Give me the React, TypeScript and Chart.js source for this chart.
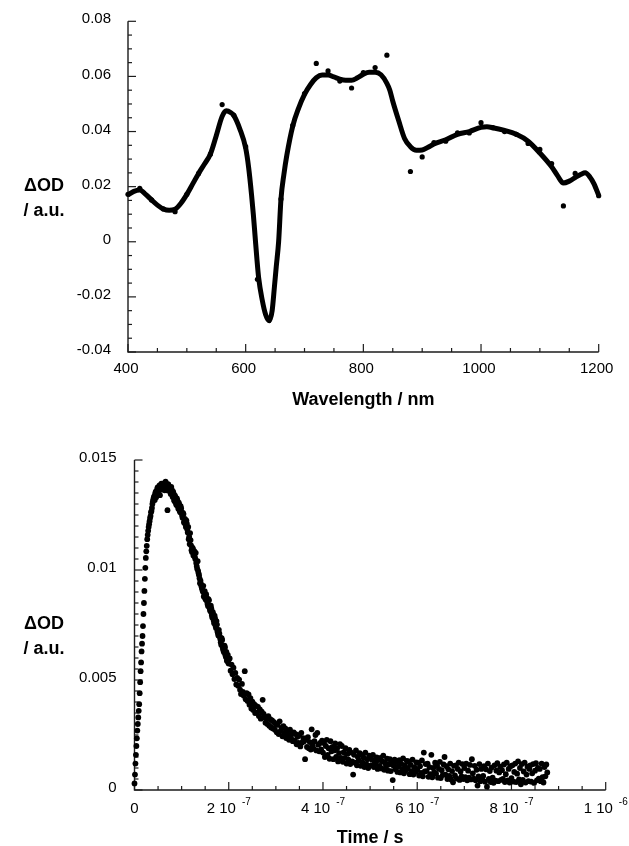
import React, { useEffect, useRef } from "react";
import { Chart, registerables } from "chart.js";

Chart.register(...registerables);

// ---------- Top chart: transient spectrum ----------
const specPointNm = [400, 420, 440, 460, 480, 500, 520, 540, 560, 580, 600, 620, 640, 660, 680, 700, 720, 740, 760, 780, 800, 820, 840, 880, 900, 920, 940, 960, 980, 1000, 1020, 1040, 1060, 1080, 1100, 1120, 1140, 1160, 1200];
const specPointOD = [0.0172, 0.0194, 0.0152, 0.0119, 0.0109, 0.0172, 0.0248, 0.0318, 0.0498, 0.0459, 0.0345, -0.0136, -0.0283, 0.0155, 0.0422, 0.0538, 0.0647, 0.062, 0.0583, 0.0558, 0.0614, 0.0632, 0.0677, 0.0255, 0.0308, 0.036, 0.0365, 0.0395, 0.0395, 0.0432, 0.0414, 0.04, 0.039, 0.0357, 0.0335, 0.0284, 0.013, 0.0248, 0.0167];

const specFitNm = [400, 410, 420, 430, 440, 450, 460, 470, 480, 490, 500, 510, 520, 530, 540, 550, 560, 567, 575, 580, 590, 600, 605, 610, 613, 616, 619, 622, 628, 634, 640, 645, 649, 652, 656, 660, 665, 670, 680, 690, 700, 710, 720, 730, 740, 750, 760, 770, 780, 790, 800, 810, 820, 830, 840, 845, 850, 860, 870, 880, 890, 900, 910, 920, 940, 960, 980, 1000, 1010, 1020, 1040, 1060, 1080, 1100, 1120, 1130, 1140, 1150, 1160, 1170, 1177, 1185, 1192, 1200];
const specFitOD = [0.017, 0.0183, 0.0188, 0.0172, 0.0152, 0.0133, 0.0119, 0.0114, 0.0118, 0.014, 0.0172, 0.021, 0.0248, 0.0282, 0.0318, 0.0385, 0.0455, 0.0475, 0.0468, 0.0458, 0.041, 0.034, 0.027, 0.017, 0.01, 0.002, -0.006, -0.013, -0.021, -0.0265, -0.0287, -0.025, -0.016, -0.009, 0.0, 0.0155, 0.0245, 0.0315, 0.042, 0.0485, 0.0535, 0.057, 0.0595, 0.0605, 0.0605, 0.0598, 0.059, 0.0586, 0.0586, 0.0595, 0.0608, 0.0615, 0.0615, 0.0606, 0.0575, 0.055, 0.051, 0.044, 0.0375, 0.0345, 0.0332, 0.0333, 0.0343, 0.0355, 0.037, 0.039, 0.04, 0.0415, 0.0417, 0.0414, 0.0404, 0.039, 0.0365, 0.0322, 0.0272, 0.024, 0.0213, 0.022, 0.0233, 0.0245, 0.025, 0.0235, 0.021, 0.0168];

const specXTicks = [400, 600, 800, 1000, 1200];
const specXTickLabels = ["400", "600", "800", "1000", "1200"];
const specYTicks = [-0.04, -0.02, 0, 0.02, 0.04, 0.06, 0.08];
const specYTickLabels = ["-0.04", "-0.02", "0", "0.02", "0.04", "0.06", "0.08"];

// ---------- Bottom chart: kinetic trace ----------
const decayTimeNs = [
  0, 2, 4, 6, 8, 10, 12, 14, 16, 18,
  20, 22, 24, 26, 28, 30, 32, 34, 36, 38,
  40, 42, 44, 46, 48, 50, 52, 54, 56, 58,
  60, 62, 64, 66, 68, 70, 72, 74, 76, 78,
  80, 82, 84, 86, 88, 90, 92, 94, 96, 98,
  100, 102, 104, 106, 108, 110, 112, 114, 116, 118,
  120, 122, 124, 126, 128, 130, 132, 134, 136, 138,
  140, 142, 144, 146, 148, 150, 152, 154, 156, 158,
  160, 162, 164, 166, 168, 170, 172, 174, 176, 178,
  180, 182, 184, 186, 188, 190, 192, 194, 196, 198,
  200, 202, 204, 206, 208, 210, 212, 214, 216, 218,
  220, 222, 224, 226, 228, 230, 232, 234, 236, 238,
  240, 242, 244, 246, 248, 250, 252, 254, 256, 258,
  260, 262, 264, 266, 268, 270, 272, 274, 276, 278,
  280, 282, 284, 286, 288, 290, 292, 294, 296, 298,
  300, 302, 304, 306, 308, 310, 312, 314, 316, 318,
  320, 322, 324, 326, 328, 330, 332, 334, 336, 338,
  340, 342, 344, 346, 348, 350, 352, 354, 356, 358,
  360, 362, 364, 366, 368, 370, 372, 374, 376, 378,
  380, 382, 384, 386, 388, 390, 392, 394, 396, 398,
  400, 402, 404, 406, 408, 410, 412, 414, 416, 418,
  420, 422, 424, 426, 428, 430, 432, 434, 436, 438,
  440, 442, 444, 446, 448, 450, 452, 454, 456, 458,
  460, 462, 464, 466, 468, 470, 472, 474, 476, 478,
  480, 482, 484, 486, 488, 490, 492, 494, 496, 498,
  500, 502, 504, 506, 508, 510, 512, 514, 516, 518,
  520, 522, 524, 526, 528, 530, 532, 534, 536, 538,
  540, 542, 544, 546, 548, 550, 552, 554, 556, 558,
  560, 562, 564, 566, 568, 570, 572, 574, 576, 578,
  580, 582, 584, 586, 588, 590, 592, 594, 596, 598,
  600, 602, 604, 606, 608, 610, 612, 614, 616, 618,
  620, 622, 624, 626, 628, 630, 632, 634, 636, 638,
  640, 642, 644, 646, 648, 650, 652, 654, 656, 658,
  660, 662, 664, 666, 668, 670, 672, 674, 676, 678,
  680, 682, 684, 686, 688, 690, 692, 694, 696, 698,
  700, 702, 704, 706, 708, 710, 712, 714, 716, 718,
  720, 722, 724, 726, 728, 730, 732, 734, 736, 738,
  740, 742, 744, 746, 748, 750, 752, 754, 756, 758,
  760, 762, 764, 766, 768, 770, 772, 774, 776, 778,
  780, 782, 784, 786, 788, 790, 792, 794, 796, 798,
  800, 802, 804, 806, 808, 810, 812, 814, 816, 818,
  820, 822, 824, 826, 828, 830, 832, 834, 836, 838,
  840, 842, 844, 846, 848, 850, 852, 854, 856, 858,
  860, 862, 864, 866, 868, 870, 872, 874, 876,
];
// ΔOD in units of 1e-5
const decayODe5 = [
  30, 120, 200, 270, 330, 390, 490, 580, 665, 745,
  850, 960, 1055, 1110, 1160, 1195, 1222, 1245, 1268, 1300,
  1322, 1336, 1348, 1331, 1366, 1352, 1372, 1340, 1385, 1366,
  1376, 1394, 1362, 1402, 1380, 1272, 1388, 1366, 1352, 1378,
  1343, 1356, 1318, 1338, 1302, 1326, 1290, 1306, 1268, 1290,
  1262, 1238, 1254, 1222, 1208, 1226, 1184, 1196, 1150, 1168,
  1112, 1082, 1096, 1072, 1060, 1078, 1018, 1040, 985, 962,
  952, 926, 910, 928, 895, 872, 890, 858, 836, 862,
  820, 838, 796, 810, 770, 792, 746, 768, 720, 702,
  712, 686, 660, 682, 640, 626, 648, 604, 588, 614,
  575, 598, 542, 570, 526, 556, 504, 532, 480, 510,
  474, 502, 456, 436, 482, 446, 428, 540, 412, 440,
  404, 434, 388, 418, 370, 402, 364, 390, 350, 382,
  352, 378, 336, 366, 324, 356, 410, 346, 330, 306,
  326, 300, 336, 292, 322, 284, 316, 280, 308, 274,
  300, 262, 296, 254, 312, 268, 282, 244, 290, 258,
  280, 236, 266, 248, 228, 274, 240, 258, 222, 262,
  226, 254, 208, 242, 214, 250, 198, 260, 216, 236,
  222, 140, 234, 196, 240, 190, 218, 184, 276, 202,
  188, 222, 250, 180, 260, 206, 176, 214, 184, 224,
  170, 214, 150, 200, 228, 160, 190, 142, 222, 176,
  196, 140, 180, 212, 150, 190, 130, 168, 208, 146,
  200, 128, 172, 146, 190, 120, 164, 138, 182, 118,
  170, 130, 70, 160, 124, 180, 112, 150, 134, 168,
  110, 160, 126, 148, 104, 170, 118, 140, 100, 156,
  150, 112, 138, 160, 104, 128, 118, 148, 96, 136,
  110, 146, 98, 130, 156, 92, 122, 108, 142, 88,
  116, 140, 86, 124, 45, 110, 138, 94, 128, 82,
  108, 136, 80, 120, 96, 144, 76, 112, 90, 132,
  98, 130, 72, 114, 86, 138, 70, 104, 82, 126,
  92, 124, 66, 108, 78, 134, 62, 170, 84, 118,
  86, 120, 60, 104, 72, 160, 58, 100, 80, 124,
  74, 112, 56, 96, 128, 54, 90, 68, 116, 150,
  70, 108, 50, 94, 64, 120, 48, 86, 35, 110,
  66, 112, 52, 96, 124, 46, 84, 62, 118, 50,
  100, 58, 120, 44, 88, 56, 114, 48, 140, 76,
  52, 110, 44, 92, 20, 62, 118, 40, 96, 54,
  64, 108, 38, 94, 15, 120, 50, 86, 36, 102,
  56, 33, 112, 42, 88, 122, 40, 80, 106, 46,
  90, 50, 116, 36, 72, 124, 44, 96, 34, 108,
  54, 112, 38, 82, 120, 36, 74, 130, 48, 100,
  26, 118, 46, 84, 124, 34, 70, 106, 40, 96,
  112, 38, 76, 118, 32, 88, 122, 44, 100, 52,
  96, 40, 120, 58, 34, 104, 62, 116, 80,
];
// extra samples read in the dense early part of the trace
const decayEarlyTimeNs = [
  1, 3, 5, 7, 9, 11, 13, 15, 17, 19,
  21, 23, 25, 27, 29, 31, 33, 35, 37, 39,
  41, 43, 45, 47, 49, 51, 53, 55, 57, 59,
  61, 63, 65, 67, 69, 71, 73, 75, 77, 79,
  81, 83, 85, 87, 89, 91, 93, 95, 97, 99,
  101, 103, 105, 107, 109, 111, 113, 115, 117, 119,
  121, 123, 125, 127, 129, 131, 133, 135, 137, 139,
  141, 143, 145, 147, 149, 151, 153, 155, 157, 159,
  161, 163, 165, 167, 169, 171, 173, 175, 177, 179,
  181, 183, 185, 187, 189, 191, 193, 195, 197, 199,
];
const decayEarlyODe5 = [
  70, 160, 235, 300, 360, 440, 540, 630, 700, 800,
  905, 1010, 1085, 1140, 1178, 1208, 1236, 1262, 1282, 1312,
  1330, 1318, 1356, 1344, 1376, 1358, 1384, 1368, 1392, 1372,
  1386, 1370, 1396, 1384, 1362, 1390, 1374, 1360, 1346, 1366,
  1332, 1348, 1312, 1330, 1296, 1316, 1278, 1298, 1262, 1280,
  1248, 1260, 1216, 1232, 1196, 1212, 1170, 1140, 1118, 1136,
  1090, 1102, 1066, 1086, 1050, 1032, 1006, 996, 976, 940,
  938, 918, 902, 880, 904, 866, 876, 846, 868, 830,
  812, 826, 784, 800, 758, 780, 736, 752, 712, 728,
  698, 672, 690, 650, 632, 656, 612, 628, 596, 578,
];

const decayXTicks = [0, 2e-7, 4e-7, 6e-7, 8e-7, 1e-6];
const decayXTickMantissa = ["0", "2 10", "4 10", "6 10", "8 10", "1 10"];
const decayXTickExponent = ["", "-7", "-7", "-7", "-7", "-6"];
const decayYTicks = [0, 0.005, 0.01, 0.015];
const decayYTickLabels = ["0", "0.005", "0.01", "0.015"];

const FONT = '"Liberation Sans", Arial, Helvetica, sans-serif';

type AxisSpec = {
  xMin: number; xMax: number; xMinor: number; xMajor: number[];
  yMin: number; yMax: number; yMinor: number; yMajor: number[];
  yLabels: string[]; yLabelGap: number;
  xLabels: string[]; xExp?: string[]; xLabelGap: number; xLabelShift: number;
  xTitle: string; xTitleBaseline: number; yTitleX: number;
};

function isMajor(v: number, majors: number[], step: number) {
  return majors.some((m) => Math.abs(m - v) < step * 1e-3);
}

function makeAxesPlugin(spec: AxisSpec) {
  return {
    id: "customAxes",
    beforeDatasetsDraw(chart: any) {
      const ctx: CanvasRenderingContext2D = chart.ctx;
      const xs = chart.scales.x;
      const ys = chart.scales.y;
      const { left, right, top, bottom } = chart.chartArea;
      ctx.save();
      ctx.strokeStyle = "#1c1c1c";
      ctx.lineWidth = 1.4;
      ctx.beginPath();
      ctx.moveTo(left, top);
      ctx.lineTo(left, bottom);
      ctx.lineTo(right, bottom);
      ctx.stroke();
      ctx.lineWidth = 1.2;
      const ny = Math.round((spec.yMax - spec.yMin) / spec.yMinor);
      for (let i = 0; i <= ny; i++) {
        const v = spec.yMin + i * spec.yMinor;
        const y = ys.getPixelForValue(v);
        const len = isMajor(v, spec.yMajor, spec.yMinor) ? 8 : 4;
        ctx.beginPath();
        ctx.moveTo(left, y);
        ctx.lineTo(left + len, y);
        ctx.stroke();
      }
      const nx = Math.round((spec.xMax - spec.xMin) / spec.xMinor);
      for (let i = 0; i <= nx; i++) {
        const v = spec.xMin + i * spec.xMinor;
        const x = xs.getPixelForValue(v);
        const len = isMajor(v, spec.xMajor, spec.xMinor) ? 8 : 4;
        ctx.beginPath();
        ctx.moveTo(x, bottom);
        ctx.lineTo(x, bottom - len);
        ctx.stroke();
      }
      // tick labels
      ctx.fillStyle = "#000";
      ctx.font = `15px ${FONT}`;
      ctx.textAlign = "right";
      ctx.textBaseline = "middle";
      spec.yMajor.forEach((v, i) => {
        ctx.fillText(spec.yLabels[i], left - spec.yLabelGap, ys.getPixelForValue(v) - 2);
      });
      spec.xMajor.forEach((v, i) => {
        const x = xs.getPixelForValue(v) + spec.xLabelShift;
        const y = bottom + spec.xLabelGap;
        const exp = spec.xExp ? spec.xExp[i] : "";
        if (!exp) {
          ctx.font = `15px ${FONT}`;
          ctx.textAlign = "center";
          ctx.fillText(spec.xLabels[i], x, y);
        } else {
          ctx.font = `15px ${FONT}`;
          const wM = ctx.measureText(spec.xLabels[i]).width;
          ctx.font = `10px ${FONT}`;
          const wE = ctx.measureText(exp).width;
          const gap = 6;
          const start = x - (wM + gap + wE) / 2;
          ctx.textAlign = "left";
          ctx.font = `15px ${FONT}`;
          ctx.fillText(spec.xLabels[i], start, y);
          ctx.font = `10px ${FONT}`;
          ctx.fillText(exp, start + wM + gap, y - 7);
        }
      });
      // axis titles
      ctx.font = `bold 18px ${FONT}`;
      ctx.textAlign = "center";
      ctx.textBaseline = "alphabetic";
      ctx.fillText(spec.xTitle, (left + right) / 2, spec.xTitleBaseline);
      ctx.textBaseline = "middle";
      const cy = (top + bottom) / 2;
      ctx.fillText("\u0394OD", spec.yTitleX, cy - 1);
      ctx.fillText("/ a.u.", spec.yTitleX, cy + 24);
      ctx.restore();
    },
  };
}

function SpectrumChart() {
  const ref = useRef<HTMLCanvasElement>(null);
  useEffect(() => {
    const canvas = ref.current!;
    const chart = new Chart(canvas, {
      type: "scatter",
      data: {
        datasets: [
          {
            data: specFitNm.map((x, i) => ({ x, y: specFitOD[i] })),
            showLine: true,
            borderColor: "#000",
            borderWidth: 5,
            pointRadius: 0,
            cubicInterpolationMode: "monotone",
            clip: false,
            order: 2,
          } as any,
          {
            data: specPointNm.map((x, i) => ({ x, y: specPointOD[i] })),
            backgroundColor: "#000",
            borderColor: "#000",
            pointRadius: 2.6,
            borderWidth: 0,
            clip: false,
            order: 1,
          } as any,
        ],
      },
      options: {
        animation: false,
        responsive: false,
        layout: { padding: { left: 128, right: 30.3, top: 21.3, bottom: 68 } },
        plugins: { legend: { display: false }, tooltip: { enabled: false } },
        events: [],
        scales: {
          x: { type: "linear", min: 400, max: 1200, display: false },
          y: { type: "linear", min: -0.04, max: 0.08, display: false },
        },
      },
      plugins: [
        makeAxesPlugin({
          xMin: 400, xMax: 1200, xMinor: 50, xMajor: specXTicks,
          yMin: -0.04, yMax: 0.08, yMinor: 0.005, yMajor: specYTicks,
          yLabels: specYTickLabels, yLabelGap: 17,
          xLabels: specXTickLabels, xLabelGap: 17, xLabelShift: -2,
          xTitle: "Wavelength / nm", xTitleBaseline: 405, yTitleX: 44,
        }),
      ],
    });
    return () => chart.destroy();
  }, []);
  return <canvas ref={ref} width={629} height={420} style={{ position: "absolute", left: 0, top: 0 }} />;
}

function DecayChart() {
  const ref = useRef<HTMLCanvasElement>(null);
  useEffect(() => {
    const canvas = ref.current!;
    const pts = decayTimeNs.map((t, i) => ({ x: t * 1e-9, y: decayODe5[i] * 1e-5 }));
    const early = decayEarlyTimeNs.map((t, i) => ({ x: t * 1e-9, y: decayEarlyODe5[i] * 1e-5 }));
    const chart = new Chart(canvas, {
      type: "scatter",
      data: {
        datasets: [
          {
            data: pts.concat(early),
            backgroundColor: "#000",
            borderColor: "#000",
            pointRadius: 2.9,
            borderWidth: 0,
            clip: false,
          } as any,
        ],
      },
      options: {
        animation: false,
        responsive: false,
        layout: { padding: { left: 134.5, right: 23.3, top: 40, bottom: 56 } },
        plugins: { legend: { display: false }, tooltip: { enabled: false } },
        events: [],
        scales: {
          x: { type: "linear", min: 0, max: 1e-6, display: false },
          y: { type: "linear", min: 0, max: 0.015, display: false },
        },
      },
      plugins: [
        makeAxesPlugin({
          xMin: 0, xMax: 1e-6, xMinor: 5e-8, xMajor: decayXTicks,
          yMin: 0, yMax: 0.015, yMinor: 0.0005, yMajor: decayYTicks,
          yLabels: decayYTickLabels, yLabelGap: 18,
          xLabels: decayXTickMantissa, xExp: decayXTickExponent, xLabelGap: 19, xLabelShift: 0,
          xTitle: "Time / s", xTitleBaseline: 423, yTitleX: 44,
        }),
      ],
    });
    return () => chart.destroy();
  }, []);
  return <canvas ref={ref} width={629} height={426} style={{ position: "absolute", left: 0, top: 420 }} />;
}

export default function App() {
  return (
    <div style={{ position: "absolute", left: 0, top: 0, width: 629, height: 846, background: "#fff" }}>
      <SpectrumChart />
      <DecayChart />
    </div>
  );
}
